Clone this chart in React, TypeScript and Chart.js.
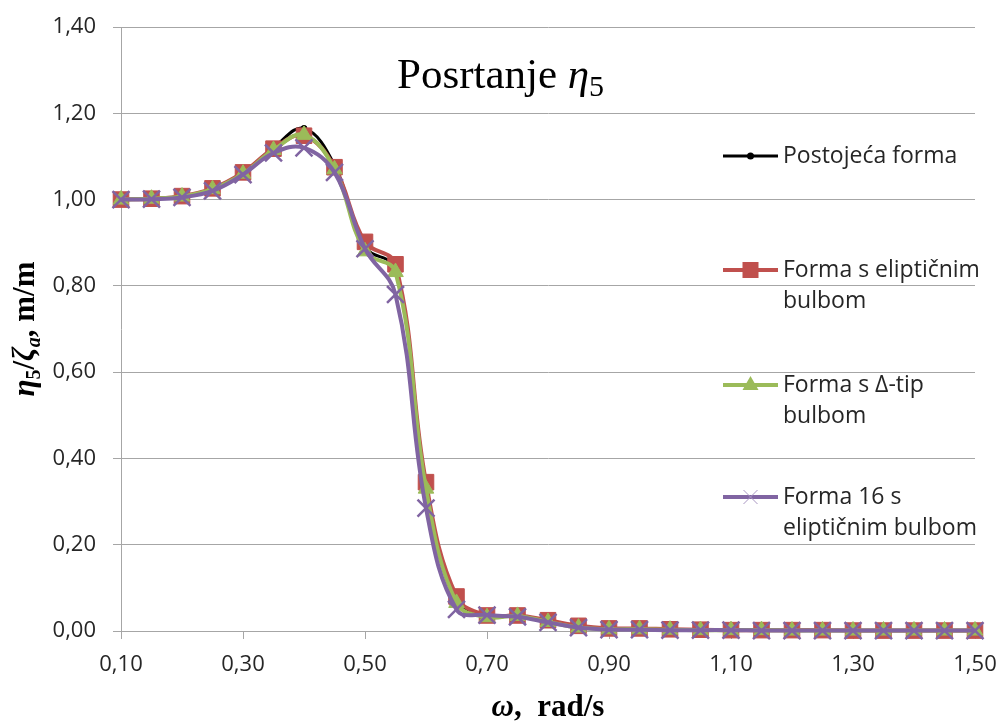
import React, { useEffect, useRef } from "react";
import { Chart, registerables } from "chart.js";

Chart.register(...registerables);

// ---- data ----
const omega = [0.10, 0.15, 0.20, 0.25, 0.30, 0.35, 0.40, 0.45, 0.50, 0.55, 0.60, 0.65, 0.70, 0.75, 0.80, 0.85, 0.90, 0.95, 1.00, 1.05, 1.10, 1.15, 1.20, 1.25, 1.30, 1.35, 1.40, 1.45, 1.50];
const postojeca = [1.000, 1.002, 1.008, 1.025, 1.062, 1.120, 1.165, 1.080, 0.890, 0.840, 0.340, 0.075, 0.036, 0.034, 0.024, 0.010, 0.005, 0.004, 0.003, 0.002, 0.002, 0.002, 0.001, 0.001, 0.001, 0.001, 0.001, 0.001, 0.001];
const elipticni = [1.000, 1.002, 1.008, 1.026, 1.063, 1.118, 1.148, 1.075, 0.902, 0.850, 0.345, 0.080, 0.036, 0.036, 0.025, 0.012, 0.006, 0.006, 0.004, 0.003, 0.002, 0.002, 0.002, 0.002, 0.001, 0.001, 0.001, 0.001, 0.001];
const deltaTip = [1.000, 1.002, 1.007, 1.024, 1.060, 1.115, 1.150, 1.070, 0.880, 0.832, 0.330, 0.065, 0.032, 0.035, 0.021, 0.008, 0.004, 0.004, 0.003, 0.002, 0.002, 0.002, 0.001, 0.001, 0.001, 0.001, 0.001, 0.001, 0.001];
const forma16 = [1.000, 1.001, 1.005, 1.020, 1.058, 1.108, 1.120, 1.063, 0.886, 0.780, 0.285, 0.050, 0.037, 0.033, 0.020, 0.008, 0.003, 0.003, 0.002, 0.002, 0.002, 0.001, 0.001, 0.001, 0.001, 0.001, 0.001, 0.001, 0.001];

const xTickValues = [0.10, 0.30, 0.50, 0.70, 0.90, 1.10, 1.30, 1.50];
const yTickValues = [0.00, 0.20, 0.40, 0.60, 0.80, 1.00, 1.20, 1.40];

const seriesNames = ["Postojeća forma", "Forma s eliptičnim bulbom", "Forma s Δ-tip bulbom", "Forma 16 s eliptičnim bulbom"];
const legendLines = [["Postojeća forma"], ["Forma s eliptičnim", "bulbom"], ["Forma s Δ-tip", "bulbom"], ["Forma 16 s", "eliptičnim bulbom"]];
const titleMain = "Posrtanje ";

const COLORS = ["#000000", "#C0504D", "#9BBB59", "#8064A2"];
const GRID = "#a6a6a6";
const TEXT = "#262626";
const SANS = '"Open Sans", sans-serif';
const SERIF = '"Liberation Serif", "Times New Roman", serif';

type Seg = { t: string; f: string; dy?: number };

function drawRich(ctx: CanvasRenderingContext2D, segs: Seg[], x: number, y: number, align: "left" | "center") {
  let w = 0;
  for (const s of segs) {
    ctx.font = s.f;
    w += ctx.measureText(s.t).width;
  }
  let cx = align === "center" ? x - w / 2 : x;
  ctx.textAlign = "left";
  ctx.textBaseline = "alphabetic";
  for (const s of segs) {
    ctx.font = s.f;
    ctx.fillText(s.t, cx, y + (s.dy || 0));
    cx += ctx.measureText(s.t).width;
  }
}

const fmt = (v: number) => v.toFixed(2).replace(".", ",");

const decorPlugin = {
  id: "decor",
  afterDraw(chart: any) {
    const ctx: CanvasRenderingContext2D = chart.ctx;
    const area = chart.chartArea;
    ctx.save();
    ctx.fillStyle = "#000";
    // chart title
    drawRich(
      ctx,
      [
        { t: titleMain, f: `43px ${SERIF}` },
        { t: "η", f: `italic 43px ${SERIF}` },
        { t: "5", f: `30px ${SERIF}`, dy: 8 },
      ],
      397,
      88,
      "left"
    );
    // x axis title
    drawRich(
      ctx,
      [
        { t: "ω", f: `italic bold 31px ${SERIF}` },
        { t: ",  rad/s", f: `bold 31px ${SERIF}` },
      ],
      (area.left + area.right) / 2,
      716,
      "center"
    );
    // y axis title
    ctx.save();
    ctx.translate(34, 329);
    ctx.rotate(-Math.PI / 2);
    drawRich(
      ctx,
      [
        { t: "η", f: `italic bold 31px ${SERIF}` },
        { t: "5", f: `bold 20px ${SERIF}`, dy: 6 },
        { t: "/", f: `bold 31px ${SERIF}` },
        { t: "ζ", f: `italic bold 31px ${SERIF}` },
        { t: "a", f: `italic bold 20px ${SERIF}`, dy: 6 },
        { t: ", m/m", f: `bold 31px ${SERIF}` },
      ],
      0,
      0,
      "center"
    );
    ctx.restore();

    // legend
    const rowsY = [156, 270, 385, 497];
    const x0 = 723;
    const x1 = 778;
    const tx = 783;
    legendLines.forEach((lines, i) => {
      const y = rowsY[i];
      const c = COLORS[i];
      ctx.strokeStyle = c;
      ctx.lineWidth = i === 0 ? 3 : 4;
      ctx.beginPath();
      ctx.moveTo(x0, y);
      ctx.lineTo(x1, y);
      ctx.stroke();
      const mx = (x0 + x1) / 2;
      ctx.fillStyle = c;
      if (i === 0) {
        ctx.beginPath();
        ctx.arc(mx, y, 3.5, 0, Math.PI * 2);
        ctx.fill();
      } else if (i === 1) {
        ctx.fillRect(mx - 8, y - 8, 16, 16);
      } else if (i === 2) {
        ctx.beginPath();
        ctx.moveTo(mx, y - 9);
        ctx.lineTo(mx + 8, y + 5);
        ctx.lineTo(mx - 8, y + 5);
        ctx.closePath();
        ctx.fill();
      } else {
        ctx.strokeStyle = "#a896c2";
        ctx.lineWidth = 1;
        ctx.beginPath();
        ctx.moveTo(mx - 7, y - 7);
        ctx.lineTo(mx + 7, y + 7);
        ctx.moveTo(mx + 7, y - 7);
        ctx.lineTo(mx - 7, y + 7);
        ctx.stroke();
      }
      ctx.fillStyle = TEXT;
      ctx.font = `23px ${SANS}`;
      ctx.textAlign = "left";
      ctx.textBaseline = "middle";
      lines.forEach((ln, j) => ctx.fillText(ln, tx, y + j * 31));
    });
    ctx.restore();
  },
};

export default function App() {
  const ref = useRef<HTMLCanvasElement | null>(null);

  useEffect(() => {
    if (!ref.current) return;
    const series = [postojeca, elipticni, deltaTip, forma16];
    const styles = [
      { pointStyle: "circle", pointRadius: 3, borderWidth: 3, pointBorderWidth: 1 },
      { pointStyle: "rect", pointRadius: 11, borderWidth: 4, pointBorderWidth: 1 },
      { pointStyle: "triangle", pointRadius: 9, borderWidth: 4, pointBorderWidth: 1 },
      { pointStyle: "crossRot", pointRadius: 12, borderWidth: 4, pointBorderWidth: 2.5 },
    ];
    const datasets = series.map((vals, i) => ({
      label: seriesNames[i],
      data: vals.map((v, k) => ({ x: omega[k], y: v })),
      borderColor: COLORS[i],
      backgroundColor: COLORS[i],
      pointBackgroundColor: COLORS[i],
      pointBorderColor: COLORS[i],
      pointStyle: styles[i].pointStyle,
      pointRadius: styles[i].pointRadius,
      pointBorderWidth: styles[i].pointBorderWidth,
      borderWidth: styles[i].borderWidth,
      tension: 0.4,
      fill: false,
      clip: false,
      order: 3 - i,
    }));

    const chart = new Chart(ref.current, {
      type: "line",
      data: { datasets: datasets as any },
      options: {
        animation: false,
        responsive: false,
        maintainAspectRatio: false,
        devicePixelRatio: 1,
        layout: { padding: { top: 27, right: 23, left: 0, bottom: 0 } },
        plugins: {
          legend: { display: false },
          tooltip: { enabled: false },
          title: { display: false },
        },
        scales: {
          x: {
            type: "linear",
            min: 0.1,
            max: 1.5,
            afterBuildTicks: (s: any) => {
              s.ticks = xTickValues.map((v) => ({ value: v }));
            },
            afterFit: (s: any) => {
              s.height = 91;
              s.paddingLeft = 0;
              s.paddingRight = 0;
            },
            grid: { drawOnChartArea: false, drawTicks: true, tickLength: 8, color: GRID, lineWidth: 1 },
            border: { color: GRID, width: 1 },
            ticks: {
              autoSkip: false,
              maxRotation: 0,
              padding: 13,
              color: TEXT,
              font: { family: SANS, size: 22 },
              callback: (v: any) => fmt(Number(v)),
            },
          },
          y: {
            type: "linear",
            min: 0,
            max: 1.4,
            afterBuildTicks: (s: any) => {
              s.ticks = yTickValues.map((v) => ({ value: v }));
            },
            afterFit: (s: any) => {
              s.width = 121;
              s.paddingTop = 0;
              s.paddingBottom = 0;
            },
            grid: { drawOnChartArea: true, drawTicks: true, tickLength: 8, color: GRID, lineWidth: 1 },
            border: { color: GRID, width: 1 },
            ticks: {
              autoSkip: false,
              padding: 17,
              color: TEXT,
              font: { family: SANS, size: 22 },
              callback: (v: any) => fmt(Number(v)),
            },
          },
        },
      } as any,
      plugins: [decorPlugin],
    });
    return () => chart.destroy();
  }, []);

  return (
    <div style={{ position: "fixed", left: 0, top: 0, width: 998, height: 722, background: "#fff" }}>
      <canvas ref={ref} width={998} height={722} style={{ width: 998, height: 722, display: "block" }} />
    </div>
  );
}
